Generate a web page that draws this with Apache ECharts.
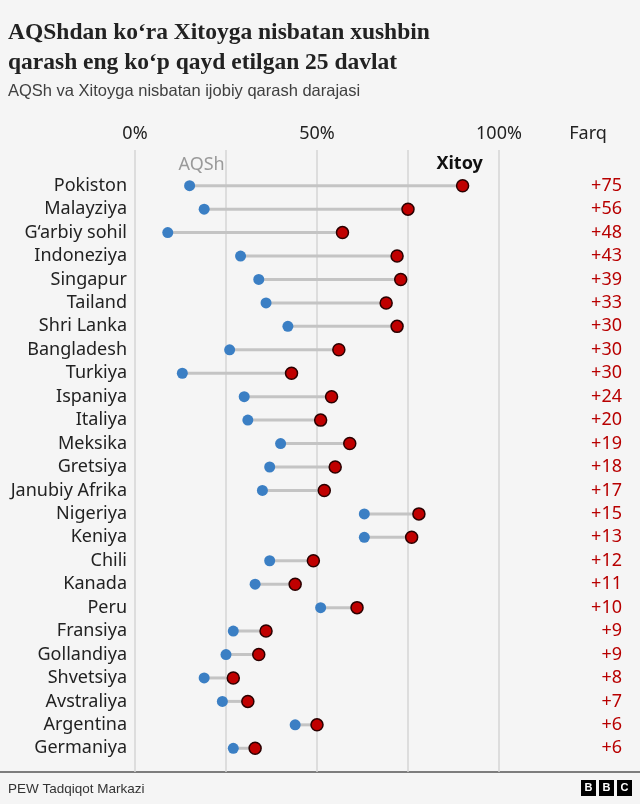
<!DOCTYPE html>
<html>
<head>
<meta charset="utf-8">
<script src="https://cdn.jsdelivr.net/npm/echarts@6/dist/echarts.min.js"></script>
<style>
  html, body { margin: 0; padding: 0; background: #f5f5f5; }
  #chart { width: 640px; height: 804px; }
</style>
</head>
<body>
<div id="chart"></div>
<script>
const countries = ['Pokiston', 'Malayziya', 'G‘arbiy sohil', 'Indoneziya', 'Singapur', 'Tailand', 'Shri Lanka',
  'Bangladesh', 'Turkiya', 'Ispaniya', 'Italiya', 'Meksika', 'Gretsiya', 'Janubiy Afrika', 'Nigeriya', 'Keniya',
  'Chili', 'Kanada', 'Peru', 'Fransiya', 'Gollandiya', 'Shvetsiya', 'Avstraliya', 'Argentina', 'Germaniya']
const usa = [15, 19, 9, 29, 34, 36, 42, 26, 13, 30, 31, 40, 37, 35, 63, 63, 37, 33, 51, 27, 25, 19, 24, 44, 27]
const china = [90, 75, 57, 72, 73, 69, 72, 56, 43, 54, 51, 59, 55, 52, 78, 76, 49, 44, 61, 36, 34, 27, 31, 50, 33]
const farq = ['+75', '+56', '+48', '+43', '+39', '+33', '+30', '+30', '+30', '+24', '+20', '+19', '+18', '+17',
  '+15', '+13', '+12', '+11', '+10', '+9', '+9', '+8', '+7', '+6', '+6']
const xTicks = { 0: '0%', 50: '50%', 100: '100%' }

const sans = 'Noto Sans'
const labelSize = 18
const chart = echarts.init(document.getElementById('chart'))

chart.setOption({
  backgroundColor: '#f5f5f5',
  animation: false,
  title: [{
    text: 'AQShdan ko‘ra Xitoyga nisbatan xushbin\nqarash eng ko‘p qayd etilgan 25 davlat',
    left: 8,
    top: 18,
    padding: 0,
    textStyle: { fontFamily: 'Liberation Serif', fontSize: 23.5, fontWeight: 'bold', color: '#222222', lineHeight: 30 }
  }, {
    text: 'AQSh va Xitoyga nisbatan ijobiy qarash darajasi',
    left: 8,
    top: 83,
    padding: 0,
    textStyle: { fontFamily: 'Liberation Sans', fontSize: 16.5, fontWeight: 'normal', color: '#404040' }
  }],
  grid: [
    { left: 135, right: 141, top: 150, bottom: 32 },
    { left: 135, right: 141, top: 174, bottom: 44 }
  ],
  xAxis: [{
    gridIndex: 0,
    type: 'value',
    position: 'top',
    min: 0,
    max: 100,
    interval: 25,
    axisLine: { show: false },
    axisTick: { show: false },
    axisLabel: {
      margin: 7,
      fontFamily: sans,
      fontSize: labelSize,
      color: '#222222',
      formatter: v => xTicks[v] || ''
    },
    splitLine: { lineStyle: { color: '#d4d4d4', width: 1.5 } }
  }, {
    gridIndex: 1,
    type: 'value',
    min: 0,
    max: 100,
    show: false
  }],
  yAxis: [{
    gridIndex: 0,
    type: 'value',
    show: false
  }, {
    gridIndex: 1,
    type: 'category',
    inverse: true,
    data: countries,
    axisLine: { show: false },
    axisTick: { show: false },
    splitLine: { show: false },
    axisLabel: { interval: 0, margin: 8, padding: [3, 0, 0, 0], fontFamily: sans, fontSize: labelSize, lineHeight: 20, color: '#222222' }
  }, {
    gridIndex: 1,
    type: 'category',
    inverse: true,
    position: 'right',
    data: farq,
    axisLine: { show: false },
    axisTick: { show: false },
    splitLine: { show: false },
    axisLabel: { interval: 0, margin: 123, align: 'right', padding: [3, 0, 0, 0], fontFamily: sans, fontSize: labelSize, lineHeight: 20, color: '#b80000' }
  }],
  series: [{
    type: 'custom',
    xAxisIndex: 1,
    yAxisIndex: 1,
    data: countries.map((c, i) => [i, usa[i], china[i]]),
    renderItem: (params, api) => {
      const a = api.coord([api.value(1), api.value(0)])
      const b = api.coord([api.value(2), api.value(0)])
      return {
        type: 'line',
        shape: { x1: a[0], y1: a[1], x2: b[0], y2: b[1] },
        style: { stroke: '#c4c4c4', lineWidth: 3 }
      }
    }
  }, {
    name: 'AQSh',
    type: 'scatter',
    xAxisIndex: 1,
    yAxisIndex: 1,
    symbolSize: 11,
    itemStyle: { color: '#3b7fc4', opacity: 1 },
    data: usa.map((v, i) => {
      const item = { value: [v, countries[i]] }
      if (i === 0) {
        item.label = {
          show: true, position: 'top', distance: 6, offset: [12, 0],
          formatter: 'AQSh', fontFamily: sans, fontSize: labelSize, fontWeight: 'normal', color: '#9a9a9a'
        }
      }
      return item
    })
  }, {
    name: 'Xitoy',
    type: 'scatter',
    xAxisIndex: 1,
    yAxisIndex: 1,
    symbolSize: 12,
    itemStyle: { color: '#c00000', borderColor: '#2a0000', borderWidth: 1.5, opacity: 1 },
    data: china.map((v, i) => {
      const item = { value: [v, countries[i]] }
      if (i === 0) {
        item.label = {
          show: true, position: 'top', distance: 6, offset: [-3, 0],
          formatter: 'Xitoy', fontFamily: sans, fontSize: labelSize, fontWeight: 'bold', color: '#111111'
        }
      }
      return item
    })
  }],
  graphic: [
    { type: 'text', style: { x: 588, y: 134, text: 'Farq', font: '18px "Noto Sans"', fill: '#222222', align: 'center', verticalAlign: 'middle' } },
    { type: 'line', shape: { x1: 0, y1: 772, x2: 640, y2: 772 }, style: { stroke: '#555555', lineWidth: 1.5 } },
    { type: 'text', style: { x: 8, y: 789, text: 'PEW Tadqiqot Markazi', font: '13.5px "Liberation Sans"', fill: '#333333', verticalAlign: 'middle' } },
    { type: 'rect', shape: { x: 581, y: 780, width: 15, height: 16 }, style: { fill: '#000000' } },
    { type: 'rect', shape: { x: 599, y: 780, width: 15, height: 16 }, style: { fill: '#000000' } },
    { type: 'rect', shape: { x: 617, y: 780, width: 15, height: 16 }, style: { fill: '#000000' } },
    { type: 'text', style: { x: 588.5, y: 788, text: 'B', font: 'bold 11px "Liberation Sans"', fill: '#ffffff', align: 'center', verticalAlign: 'middle' } },
    { type: 'text', style: { x: 606.5, y: 788, text: 'B', font: 'bold 11px "Liberation Sans"', fill: '#ffffff', align: 'center', verticalAlign: 'middle' } },
    { type: 'text', style: { x: 624.5, y: 788, text: 'C', font: 'bold 11px "Liberation Sans"', fill: '#ffffff', align: 'center', verticalAlign: 'middle' } }
  ]
})
</script>
</body>
</html>
